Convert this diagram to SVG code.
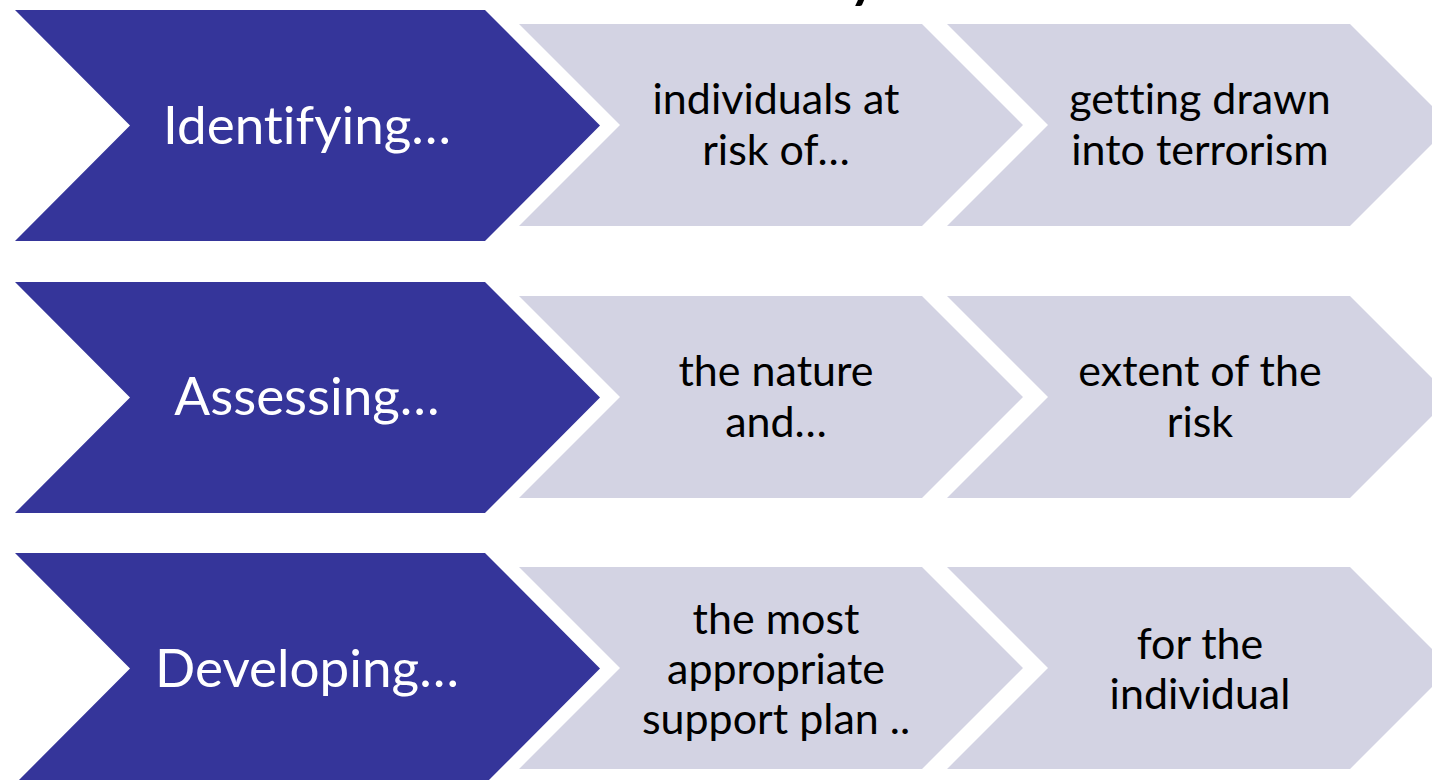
<svg xmlns="http://www.w3.org/2000/svg" width="1432" height="780" viewBox="0 0 1432 780">
<style>
.dark{fill:#35359a}
.light{fill:#d3d3e3}
.tw{font-family:Lato,"Open Sans","Liberation Sans",sans-serif;font-size:53px;fill:#ffffff;text-anchor:middle;font-variant-ligatures:none}
.tb{font-family:Lato,"Open Sans","Liberation Sans",sans-serif;font-size:43px;fill:#000000;text-anchor:middle;font-variant-ligatures:none}
</style>
<rect width="1432" height="780" fill="#ffffff"/>
<text x="846" y="-6" style="font-family:Lato,sans-serif;font-size:72px;fill:#000">y</text>
<g id="row1">
<g id="identifying"><polygon class="dark" points="15,10 485,10 600,125.5 485,241 15,241 130,125.5"/><text class="tw" x="307" y="144">Identifying…</text></g>
<g id="individuals"><polygon class="light" points="519,24 922,24 1023,125 922,226 519,226 620,125"/><text class="tb" x="776" y="114">individuals at</text><text class="tb" x="776" y="165">risk of…</text></g>
<g id="getting"><polygon class="light" points="947,24 1350,24 1451,125 1350,226 947,226 1048,125"/><text class="tb" x="1200" y="114">getting drawn</text><text class="tb" x="1200" y="165">into terrorism</text></g>
</g>
<g id="row2">
<g id="assessing"><polygon class="dark" points="15,282 485,282 600,397.5 485,513 15,513 130,397.5"/><text class="tw" x="307" y="415">Assessing…</text></g>
<g id="nature"><polygon class="light" points="519,296 922,296 1023,397 922,498 519,498 620,397"/><text class="tb" x="776" y="386">the nature</text><text class="tb" x="776" y="437">and…</text></g>
<g id="extent"><polygon class="light" points="947,296 1350,296 1451,397 1350,498 947,498 1048,397"/><text class="tb" x="1200" y="386">extent of the</text><text class="tb" x="1200" y="437">risk</text></g>
</g>
<g id="row3">
<g id="developing"><polygon class="dark" points="15,553 485,553 600,668.5 485,784 15,784 130,668.5"/><text class="tw" x="307" y="687">Developing…</text></g>
<g id="plan"><polygon class="light" points="519,567 922,567 1023,668 922,769 519,769 620,668"/><text class="tb" x="776" y="634">the most</text><text class="tb" x="776" y="684">appropriate</text><text class="tb" x="776" y="734">support plan ..</text></g>
<g id="forindividual"><polygon class="light" points="947,567 1350,567 1451,668 1350,769 947,769 1048,668"/><text class="tb" x="1200" y="659">for the</text><text class="tb" x="1200" y="709">individual</text></g>
</g>
<g id="connectors"/>
</svg>
